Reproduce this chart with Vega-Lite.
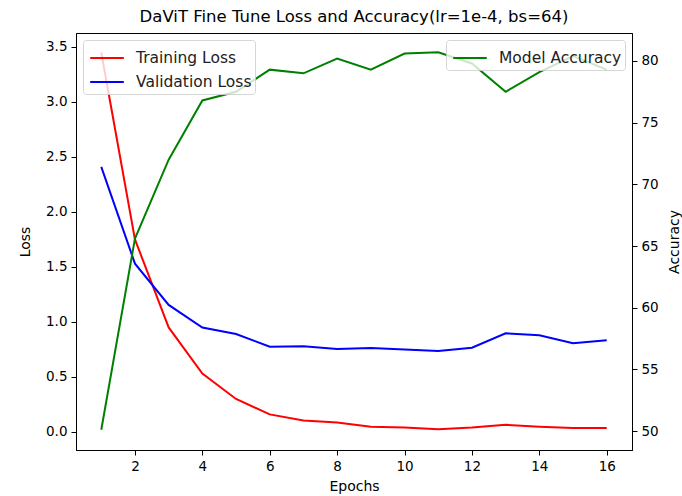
{
  "$schema": "https://vega.github.io/schema/vega-lite/v6.json",
  "width": 556,
  "height": 417,
  "autosize": {"type": "none"},
  "padding": {"left": 76, "top": 33, "right": 50, "bottom": 46},
  "background": "white",
  "title": {"text": "DaViT Fine Tune Loss and Accuracy(lr=1e-4, bs=64)", "fontSize": 16.5, "font": "DejaVu Sans", "fontWeight": "normal", "color": "black", "anchor": "middle", "offset": 8},
  "config": {
    "font": "DejaVu Sans",
    "view": {"stroke": "black", "strokeWidth": 1},
    "axis": {"grid": false, "domainColor": "black", "tickColor": "black", "tickSize": 5, "labelFontSize": 13.5, "labelColor": "black", "labelPadding": 4, "titleFontSize": 14, "titleFontWeight": "normal", "titleColor": "black", "labelFont": "DejaVu Sans", "titleFont": "DejaVu Sans"},
    "legend": {"labelFont": "DejaVu Sans", "labelFontSize": 15.5, "labelColor": "#222", "labelOffset": 14, "symbolType": "M-1.2,0H1.2", "symbolSize": 784, "symbolOffset": 6, "symbolStrokeWidth": 2, "symbolFillColor": "transparent", "fillColor": "rgba(255,255,255,0.8)", "strokeColor": "rgba(204,204,204,0.8)", "cornerRadius": 3, "padding": 3, "rowPadding": -1, "offset": 7, "title": null}
  },
  "datasets": {
    "loss": [
      {"epoch": 1, "series": "Training Loss", "value": 3.45},
      {"epoch": 2, "series": "Training Loss", "value": 1.75},
      {"epoch": 3, "series": "Training Loss", "value": 0.95},
      {"epoch": 4, "series": "Training Loss", "value": 0.53},
      {"epoch": 5, "series": "Training Loss", "value": 0.30},
      {"epoch": 6, "series": "Training Loss", "value": 0.16},
      {"epoch": 7, "series": "Training Loss", "value": 0.105},
      {"epoch": 8, "series": "Training Loss", "value": 0.085},
      {"epoch": 9, "series": "Training Loss", "value": 0.048},
      {"epoch": 10, "series": "Training Loss", "value": 0.04},
      {"epoch": 11, "series": "Training Loss", "value": 0.025},
      {"epoch": 12, "series": "Training Loss", "value": 0.04},
      {"epoch": 13, "series": "Training Loss", "value": 0.065},
      {"epoch": 14, "series": "Training Loss", "value": 0.048},
      {"epoch": 15, "series": "Training Loss", "value": 0.036},
      {"epoch": 16, "series": "Training Loss", "value": 0.037},
      {"epoch": 1, "series": "Validation Loss", "value": 2.41},
      {"epoch": 2, "series": "Validation Loss", "value": 1.53},
      {"epoch": 3, "series": "Validation Loss", "value": 1.155},
      {"epoch": 4, "series": "Validation Loss", "value": 0.95},
      {"epoch": 5, "series": "Validation Loss", "value": 0.89},
      {"epoch": 6, "series": "Validation Loss", "value": 0.775},
      {"epoch": 7, "series": "Validation Loss", "value": 0.78},
      {"epoch": 8, "series": "Validation Loss", "value": 0.755},
      {"epoch": 9, "series": "Validation Loss", "value": 0.764},
      {"epoch": 10, "series": "Validation Loss", "value": 0.75},
      {"epoch": 11, "series": "Validation Loss", "value": 0.736},
      {"epoch": 12, "series": "Validation Loss", "value": 0.766},
      {"epoch": 13, "series": "Validation Loss", "value": 0.897},
      {"epoch": 14, "series": "Validation Loss", "value": 0.88},
      {"epoch": 15, "series": "Validation Loss", "value": 0.806},
      {"epoch": 16, "series": "Validation Loss", "value": 0.834}
    ],
    "acc": [
      {"epoch": 1, "series": "Model Accuracy", "value": 50.1},
      {"epoch": 2, "series": "Model Accuracy", "value": 65.6},
      {"epoch": 3, "series": "Model Accuracy", "value": 72.0},
      {"epoch": 4, "series": "Model Accuracy", "value": 76.8},
      {"epoch": 5, "series": "Model Accuracy", "value": 77.5},
      {"epoch": 6, "series": "Model Accuracy", "value": 79.3},
      {"epoch": 7, "series": "Model Accuracy", "value": 79.0},
      {"epoch": 8, "series": "Model Accuracy", "value": 80.2},
      {"epoch": 9, "series": "Model Accuracy", "value": 79.3},
      {"epoch": 10, "series": "Model Accuracy", "value": 80.6},
      {"epoch": 11, "series": "Model Accuracy", "value": 80.7},
      {"epoch": 12, "series": "Model Accuracy", "value": 79.8},
      {"epoch": 13, "series": "Model Accuracy", "value": 77.5},
      {"epoch": 14, "series": "Model Accuracy", "value": 79.1},
      {"epoch": 15, "series": "Model Accuracy", "value": 80.4},
      {"epoch": 16, "series": "Model Accuracy", "value": 79.3}
    ]
  },
  "layer": [
    {
      "data": {"name": "loss"},
      "mark": {"type": "line", "strokeWidth": 2, "clip": true},
      "encoding": {
        "x": {"field": "epoch", "type": "quantitative", "scale": {"domain": [0.25, 16.75], "nice": false, "zero": false}, "axis": {"title": "Epochs", "values": [2, 4, 6, 8, 10, 12, 14, 16], "titlePadding": 7}},
        "y": {"field": "value", "type": "quantitative", "scale": {"domain": [-0.164, 3.627], "nice": false, "zero": false}, "axis": {"title": "Loss", "values": [0, 0.5, 1, 1.5, 2, 2.5, 3, 3.5], "format": ".1f", "orient": "left", "titlePadding": 13}},
        "color": {"field": "series", "type": "nominal", "scale": {"domain": ["Training Loss", "Validation Loss"], "range": ["#ff0000", "#0000ff"]}, "legend": {"orient": "top-left"}}
      }
    },
    {
      "data": {"name": "acc"},
      "mark": {"type": "line", "strokeWidth": 2, "clip": true},
      "encoding": {
        "x": {"field": "epoch", "type": "quantitative"},
        "y": {"field": "value", "type": "quantitative", "scale": {"domain": [48.46, 82.27], "nice": false, "zero": false}, "axis": {"title": "Accuracy", "values": [50, 55, 60, 65, 70, 75, 80], "orient": "right", "titleAngle": 270, "titlePadding": 23, "titleBaseline": "bottom"}},
        "color": {"field": "series", "type": "nominal", "scale": {"domain": ["Model Accuracy"], "range": ["#008000"]}, "legend": {"orient": "top-right"}}
      }
    }
  ],
  "resolve": {"scale": {"y": "independent", "color": "independent"}, "legend": {"color": "independent"}}
}
